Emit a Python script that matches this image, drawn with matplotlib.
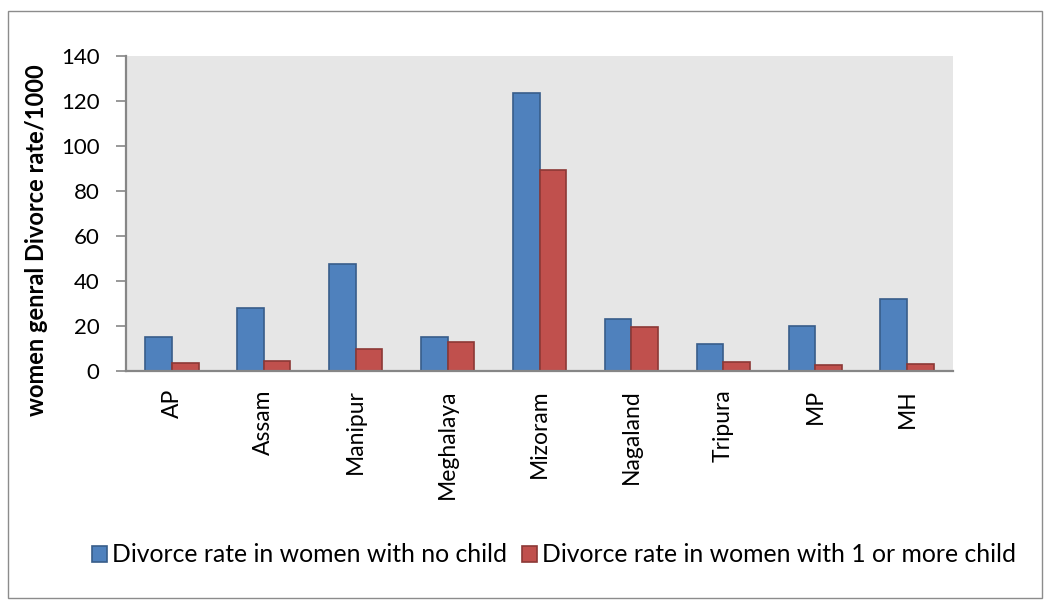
import matplotlib
matplotlib.use("Agg")
import matplotlib.pyplot as plt
import numpy as np
from matplotlib.patches import Rectangle

states = ["AP", "Assam", "Manipur", "Meghalaya", "Mizoram", "Nagaland", "Tripura", "MP", "MH"]
no_child = [15, 28, 47.7, 15.3, 123.5, 22.9, 12.2, 19.8, 31.8]
with_child = [3.5, 4.3, 10, 13, 89.5, 19.7, 3.8, 2.5, 3]
series_names = ["Divorce rate in women with no child", "Divorce rate in women with 1 or more child"]
yticks = [0, 20, 40, 60, 80, 100, 120, 140]

plt.rcParams['font.family'] = ['Lato', 'DejaVu Sans']

W, H = 1051, 609
fig = plt.figure(figsize=(W / 100, H / 100), dpi=100)
fig.patch.set_facecolor("white")
fig.add_artist(Rectangle((8 / W, 1 - 598 / H), 1034 / W, 587 / H, transform=fig.transFigure,
                         fill=False, edgecolor="#8c8c8c", linewidth=1.0))

ax = fig.add_axes([126 / W, 1 - 371 / H, (953 - 126) / W, (371 - 56) / H])
ax.set_facecolor("#e6e6e6")

x = np.arange(len(states))
w = 0.29
ax.bar(x - w / 2, no_child, w, color="#4f81bd", edgecolor="#385d8a", linewidth=1.2, label=series_names[0])
ax.bar(x + w / 2, with_child, w, color="#c0504d", edgecolor="#8c3836", linewidth=1.2, label=series_names[1])

ax.set_xlim(-0.5, len(states) - 0.5)
ax.set_ylim(0, 140)
ax.set_yticks(yticks)
ax.set_yticklabels([str(v) for v in yticks], fontsize=16)
ax.set_xticks(x)
ax.set_xticklabels(states, rotation=90, fontsize=16.5)
ax.tick_params(axis="x", length=0, pad=13)
ax.tick_params(axis="y", length=7, width=1.2, color="#868686", pad=12)

for s in ["top", "right"]:
    ax.spines[s].set_visible(False)
for s in ["left", "bottom"]:
    ax.spines[s].set_color("#868686")
    ax.spines[s].set_linewidth(1.6)

ax.set_ylabel("women genral Divorce rate/1000", fontsize=17, fontweight="bold")
ax.yaxis.set_label_coords((48 - 126) / 827, (371 - 240) / 315)

leg = fig.legend(loc="center", bbox_to_anchor=(554 / W, 1 - 555 / H), ncol=2, frameon=False,
                 fontsize=17.8, handlelength=0.6, handleheight=0.65, handletextpad=0.2,
                 columnspacing=0.6, borderaxespad=0, borderpad=0)

fig.savefig("out.png", dpi=100)
